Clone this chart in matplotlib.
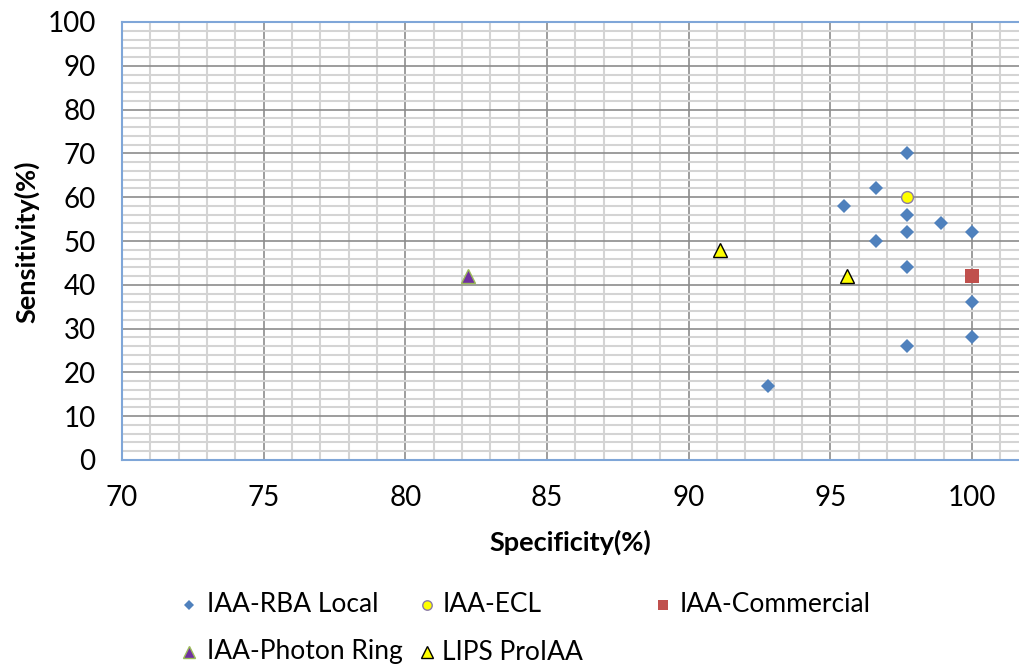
import matplotlib.pyplot as plt
from matplotlib.lines import Line2D
from matplotlib.ticker import MultipleLocator

plt.rcParams['font.family'] = ['Lato', 'DejaVu Sans']

# data
rba_spec = [97.7, 96.6, 95.5, 97.7, 98.9, 97.7, 100.0, 96.6, 97.7, 100.0, 100.0, 97.7, 92.8]
rba_sens = [70, 62, 58, 56, 54, 52, 52, 50, 44, 36, 28, 26, 17]
ecl_spec = [97.7]
ecl_sens = [60]
comm_spec = [100.0]
comm_sens = [42]
photon_spec = [82.2]
photon_sens = [42]
lips_spec = [91.1, 95.6]
lips_sens = [48, 42]

fig = plt.figure(figsize=(10.19, 6.66), dpi=100)
ax = fig.add_axes([122 / 1019, 1 - 460 / 666, 1 - 122 / 1019, (460 - 22) / 666])

styles = [
    ("IAA-RBA Local", rba_spec, rba_sens, dict(marker='D', ms=7, mfc='#4F81BD', mec='#4F81BD', mew=0)),
    ("IAA-ECL", ecl_spec, ecl_sens, dict(marker='o', ms=8.5, mfc='#FFFF00', mec='#8A7AA8', mew=1)),
    ("IAA-Commercial", comm_spec, comm_sens, dict(marker='s', ms=9.5, mfc='#C0504D', mec='#C0504D', mew=0)),
    ("IAA-Photon Ring", photon_spec, photon_sens, dict(marker='^', ms=10, mfc='#7030A0', mec='#9BBB59', mew=1)),
    ("LIPS ProIAA", lips_spec, lips_sens, dict(marker='^', ms=10, mfc='#FFFF00', mec='#000000', mew=1)),
]
for name, xs, ys, st in styles:
    ax.plot(xs, ys, ls='none', zorder=3, **st)

ax.set_xlim(70, 101.66)
ax.set_ylim(0, 100)
ax.xaxis.set_major_locator(MultipleLocator(5))
ax.xaxis.set_minor_locator(MultipleLocator(1))
ax.yaxis.set_major_locator(MultipleLocator(10))
ax.yaxis.set_minor_locator(MultipleLocator(2))
ax.grid(which='minor', color='#D4D4D4', lw=1.5)
ax.grid(which='major', color='#8C8C8C', lw=1.2)
ax.set_axisbelow(True)
ax.tick_params(which='both', length=0, labelsize=20, colors='#000000')
ax.tick_params(axis='x', pad=18)
ax.tick_params(axis='y', pad=19)
for s in ['left', 'bottom', 'top']:
    ax.spines[s].set_color('#7FA6D8')
    ax.spines[s].set_linewidth(1.5)
ax.spines['right'].set_visible(False)

ax.set_xlabel('Specificity(%)', fontsize=19.5, fontweight='bold')
ax.set_ylabel('Sensitivity(%)', fontsize=19.5, fontweight='bold')
ax.xaxis.set_label_coords((570 - 122) / (1019 - 122), -(530 - 460) / 438)
ax.yaxis.set_label_coords(-(122 - 39) / (1019 - 122), (460 - 242) / 438)

# legend laid out like the Excel one
legend_pos = [(189, 605, 207), (427, 605, 443), (663, 605, 680), (189, 652, 207), (427, 652, 442)]
for (name, xs, ys, st), (mx, my, tx) in zip(styles, legend_pos):
    lst = dict(st)
    lst['ms'] = st['ms'] * 0.8
    fig.add_artist(Line2D([mx / 1019], [1 - my / 666], transform=fig.transFigure, ls='none', **lst))
    fig.text(tx / 1019, 1 - my / 666, name, fontsize=19, va='center', ha='left')

fig.savefig('out.png', dpi=100)
